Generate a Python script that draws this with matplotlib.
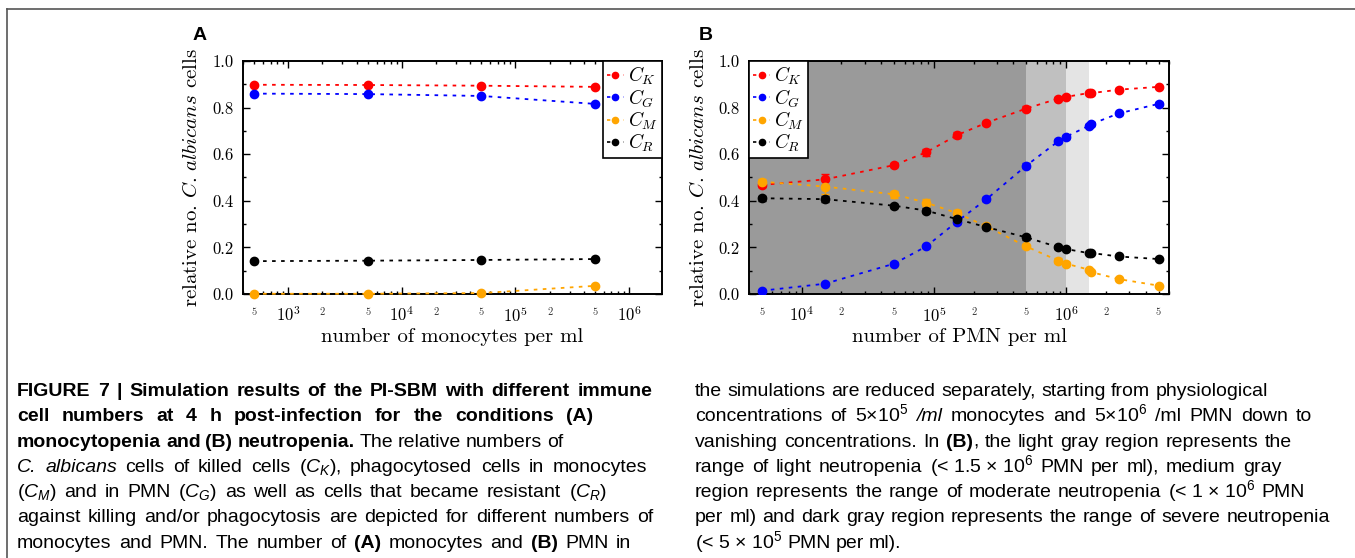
import numpy as np
import matplotlib.pyplot as plt
from matplotlib.lines import Line2D
from matplotlib.ticker import LogLocator, FuncFormatter, MultipleLocator

plt.rcParams['mathtext.fontset'] = 'cm'
plt.rcParams['font.family'] = ['cmr10', 'DejaVu Serif']
plt.rcParams['axes.formatter.use_mathtext'] = True
plt.rcParams['mathtext.rm'] = 'Liberation Sans'
plt.rcParams['mathtext.it'] = 'Liberation Sans:italic'
plt.rcParams['mathtext.bf'] = 'Liberation Sans:bold'

# ---- data panel A (monocytopenia)
mono = [5e2, 5e3, 5e4, 5e5]
a_CK = [0.898, 0.897, 0.894, 0.889]
a_CG = [0.860, 0.858, 0.850, 0.816]
a_CM = [0.001, 0.001, 0.004, 0.035]
a_CR = [0.141, 0.143, 0.146, 0.150]

# ---- data panel B (neutropenia)
pmn = [5e3, 1.5e4, 5e4, 8.75e4, 1.5e5, 2.5e5, 5e5, 8.75e5, 1e6, 1.5e6, 1.55e6, 2.5e6, 5e6]
b_CK = [0.468, 0.492, 0.553, 0.608, 0.682, 0.735, 0.796, 0.839, 0.846, 0.863, 0.862, 0.877, 0.889]
b_CG = [0.014, 0.044, 0.130, 0.204, 0.311, 0.407, 0.551, 0.656, 0.675, 0.723, 0.729, 0.775, 0.816]
b_CM = [0.482, 0.461, 0.428, 0.392, 0.347, 0.290, 0.204, 0.143, 0.130, 0.104, 0.094, 0.064, 0.036]
b_CR = [0.411, 0.407, 0.379, 0.358, 0.321, 0.287, 0.243, 0.201, 0.193, 0.175, 0.176, 0.161, 0.150]
e_CK = [0.008, 0.023, 0.010, 0.014, 0.012, 0.008, 0.009, 0.007, 0.006, 0.006, 0.006, 0.005, 0.005]
e_CG = [0.004, 0.005, 0.006, 0.007, 0.009, 0.010, 0.011, 0.009, 0.008, 0.007, 0.007, 0.006, 0.006]
e_CM = [0.010, 0.030, 0.014, 0.016, 0.015, 0.008, 0.008, 0.010, 0.006, 0.005, 0.005, 0.004, 0.004]
e_CR = [0.010, 0.012, 0.009, 0.011, 0.009, 0.007, 0.010, 0.007, 0.006, 0.005, 0.005, 0.005, 0.005]

# neutropenia ranges (severe, moderate, light)
ranges = [(4e3, 5e5), (5e5, 1e6), (1e6, 1.5e6)]
range_colors = ['#9a9a9a', '#c0c0c0', '#e4e4e4']

series_labels = ['$C_K$', '$C_G$', '$C_M$', '$C_R$']
series_colors = ['#ff0000', '#0000ff', '#ffa500', '#000000']
minor_labels = [2, 5]

W, H = 1355, 558
fig = plt.figure(figsize=(W / 100, H / 100), dpi=100)

axA = fig.add_axes([243 / W, 1 - 294 / H, 419 / W, 233 / H])
axB = fig.add_axes([749 / W, 1 - 294 / H, 420 / W, 233 / H])

dots = (0, (2, 3))


def minor_fmt(x, pos):
    m = int(round(x / 10 ** np.floor(np.log10(x) + 1e-9)))
    return str(m) if m in minor_labels else ''


def style_axis(ax, xlim, xlabel):
    ax.set_xscale('log')
    ax.set_xlim(*xlim)
    ax.set_ylim(0, 1)
    ax.xaxis.set_major_locator(LogLocator(base=10))
    ax.xaxis.set_minor_locator(LogLocator(base=10, subs=np.arange(2, 10)))
    ax.xaxis.set_minor_formatter(FuncFormatter(minor_fmt))
    ax.yaxis.set_major_locator(MultipleLocator(0.2))
    ax.yaxis.set_minor_locator(MultipleLocator(0.1))
    ax.yaxis.set_major_formatter(FuncFormatter(lambda v, p: '%.1f' % v))
    ax.tick_params(which='both', direction='in', top=True, right=True, width=1.0)
    ax.tick_params(which='major', length=5, labelsize=12, pad=8)
    ax.tick_params(which='minor', length=2.5)
    ax.tick_params(axis='x', which='minor', labelsize=7.5, pad=10, labelcolor='#333333')
    ax.tick_params(axis='y', pad=7)
    for s in ax.spines.values():
        s.set_linewidth(1.4)
    ax.set_xlabel(xlabel, fontsize=15, labelpad=2)
    ax.set_ylabel('relative no. $C.\\,albicans$ cells', fontsize=15)


def legend(ax, loc):
    handles = [Line2D([], [], color=c, marker='o', ms=4.5, ls=dots, lw=1.2)
               for c in series_colors]
    lg = ax.legend(handles, series_labels, loc=loc, fontsize=14, fancybox=False,
                   framealpha=1, edgecolor='black', borderaxespad=0,
                   handlelength=0.9, handletextpad=0.2, labelspacing=0.0,
                   borderpad=0.2)
    lg.get_frame().set_linewidth(1.2)
    lg.set_zorder(5)


# panel A
for ys, c in zip([a_CK, a_CG, a_CM, a_CR], series_colors):
    axA.plot(mono, ys, color=c, marker='o', ms=6, ls=dots, lw=1.3, clip_on=False, zorder=3)
style_axis(axA, (4e2, 1.95e6), 'number of monocytes per ml')
axA.yaxis.set_label_coords(-0.101, 0.5)
legend(axA, 'upper right')

# panel B
for (lo, hi), c in zip(ranges, range_colors):
    axB.axvspan(lo, hi, color=c, lw=0, zorder=0)
for ys, es, c in zip([b_CK, b_CG, b_CM, b_CR], [e_CK, e_CG, e_CM, e_CR], series_colors):
    axB.errorbar(pmn, ys, yerr=es, color=c, marker='o', ms=6, ls=dots, lw=1.3,
                 elinewidth=1.0, capsize=3, zorder=3)
style_axis(axB, (4e3, 6e6), 'number of PMN per ml')
axB.yaxis.set_label_coords(-0.0976, 0.5)
legend(axB, 'upper left')

fig.text(193 / W, 1 - 35 / H, 'A', family='Liberation Sans', weight='bold', fontsize=14, va='center')
fig.text(699 / W, 1 - 35 / H, 'B', family='Liberation Sans', weight='bold', fontsize=14, va='center')

# page frame
fig.add_artist(Line2D([7 / W, 1], [1 - 9 / H, 1 - 9 / H], color='#555555', lw=1.2))
fig.add_artist(Line2D([7 / W, 7 / W], [1 - 9 / H, 0], color='#555555', lw=1.2))

# ---- caption
left_lines = [
    [('FIGURE 7 | Simulation results of the PI-SBM with different immune', 'b')],
    [('cell numbers at 4 h post-infection for the conditions (A)', 'b')],
    [('monocytopenia and (B) neutropenia.', 'b'), (' The relative numbers of', 'r')],
    [('C. albicans', 'i'), (' cells of killed cells ($C_K$), phagocytosed cells in monocytes', 'r')],
    [('($C_M$) and in PMN ($C_G$) as well as cells that became resistant ($C_R$)', 'r')],
    [('against killing and/or phagocytosis are depicted for different numbers of', 'r')],
    [('monocytes and PMN. The number of ', 'r'), ('(A)', 'b'), (' monocytes and ', 'r'),
     ('(B)', 'b'), (' PMN in', 'r')],
]
right_lines = [
    [('the simulations are reduced separately, starting from physiological', 'r')],
    [('concentrations of 5\u00d7$10^5$ ', 'r'), ('/ml', 'i'),
     (' monocytes and 5\u00d7$10^6$ /ml PMN down to', 'r')],
    [('vanishing concentrations. In ', 'r'), ('(B)', 'b'),
     (', the light gray region represents the', 'r')],
    [('range of light neutropenia (<\u00a01.5\u00a0\u00d7\u00a0$10^6$ PMN per ml), medium gray', 'r')],
    [('region represents the range of moderate neutropenia (<\u00a01\u00a0\u00d7\u00a0$10^6$ PMN', 'r')],
    [('per ml) and dark gray region represents the range of severe neutropenia', 'r')],
    [('(<\u00a05\u00a0\u00d7\u00a0$10^5$ PMN per ml).', 'r')],
]
left_ends = [652, 593, 563, 647, 607, 653, 631]
right_ends = [1268, 1312, 1292, 1281, 1305, 1330, None]

styles = {'r': {}, 'b': {'weight': 'bold'}, 'i': {'style': 'italic'}}
renderer = fig.canvas.get_renderer()
cap_size = 14


def draw_line(y, x0, x1, runs):
    words = [[]]
    for txt, st in runs:
        for k, p in enumerate(txt.split(' ')):
            if k > 0:
                words.append([])
            if p:
                words[-1].append((p, st))
    words = [w for w in words if w]
    placed = []
    total = 0
    for w in words:
        pieces = []
        for p, st in w:
            t = fig.text(0, 1 - y / H, p, family='Liberation Sans', fontsize=cap_size,
                         va='baseline', math_fontfamily='custom', **styles[st])
            wd = t.get_window_extent(renderer).width
            pieces.append((t, wd))
            total += wd
        placed.append(pieces)
    space = 0.26 * cap_size * 100 / 72
    if x1 is None or len(placed) < 2:
        gap = space
    else:
        gap = max(space * 0.7, (x1 - x0 - total) / (len(placed) - 1))
    x = x0
    for pieces in placed:
        for t, wd in pieces:
            t.set_x(x / W)
            x += wd
        x += gap


for i, runs in enumerate(left_lines):
    draw_line(396 + 25.3 * i, 17, left_ends[i], runs)
for i, runs in enumerate(right_lines):
    draw_line(396 + 25.3 * i, 695, right_ends[i], runs)

fig.savefig('out.png', dpi=100)
